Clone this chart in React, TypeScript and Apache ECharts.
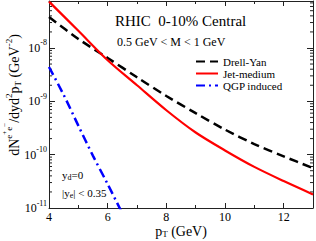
import React, { useEffect, useRef } from "react";
import * as echarts from "echarts";

const ptGrid = [4, 5, 6, 7, 8, 9, 10, 11, 12, 13];
const drellYan = [3.8e-8, 1.48e-8, 6.5e-9, 2.82e-9, 1.26e-9, 6.0e-10, 2.95e-10, 1.58e-10, 9.3e-11, 5.6e-11];
const jetMedium = [7.4e-8, 2.1e-8, 5.9e-9, 2.0e-9, 6.8e-10, 2.6e-10, 1.2e-10, 5.9e-11, 3.2e-11, 1.8e-11];
const qgpPt = [4, 4.5, 5, 5.5, 6, 6.5];
const qgpInduced = [4.4e-9, 1.32e-9, 3.5e-10, 9.5e-11, 2.8e-11, 7.9e-12];

const seriesNames = ["Drell-Yan", "Jet-medium", "QGP induced"];
const xMin = 4;
const xMax = 13;
const yMin = 1e-11;
const yMax = 7.6e-8;

const FONT = "Liberation Serif";

function minorLogValues(): number[] {
  const out: number[] = [];
  for (let e = -11; e <= -8; e++) {
    for (let k = 2; k <= 9; k++) {
      const v = k * Math.pow(10, e);
      if (v > yMin && v < yMax) out.push(v);
    }
  }
  return out;
}

export default function App() {
  const ref = useRef<HTMLDivElement>(null);
  useEffect(() => {
    if (!ref.current) return;
    const chart = echarts.init(ref.current, undefined, { renderer: "svg" });
    const yLabelFormatter = (v: number) => {
      const l = Math.log10(v);
      const e = Math.round(l);
      if (Math.abs(l - e) > 1e-6) return "";
      return `{b|10}{s|${e}}`;
    };
    const axisLineStyle = { color: "#222", width: 1 };
    const commonX = {
      type: "value",
      min: xMin,
      max: xMax,
      interval: 2,
      axisLine: { show: true, lineStyle: axisLineStyle },
      axisTick: { show: true, inside: true, length: 5, lineStyle: { color: "#222" } },
      minorTick: { show: true, splitNumber: 2, length: 3, lineStyle: { color: "#222" } },
      splitLine: { show: false },
    };
    const commonY = {
      type: "log",
      logBase: 10,
      min: yMin,
      max: yMax,
      interval: 1,
      axisLine: { show: true, lineStyle: axisLineStyle },
      axisTick: { show: true, inside: true, length: 6, lineStyle: { color: "#222" } },
      splitLine: { show: false },
    };
    chart.setOption({
      animation: false,
      grid: { left: 49, right: 3, top: 1, bottom: 33, containLabel: false },
      xAxis: [
        {
          ...commonX,
          position: "bottom",
          axisLabel: {
            show: true,
            color: "#000",
            fontFamily: FONT,
            fontSize: 12,
            margin: 3,
            showMinLabel: true,
            showMaxLabel: false,
            formatter: (v: number) => (v % 2 === 0 && v <= 12 ? String(v) : ""),
          },
        },
        { ...commonX, position: "top", axisLabel: { show: false } },
      ],
      yAxis: [
        {
          ...commonY,
          position: "left",
          axisLabel: {
            show: true,
            color: "#000",
            margin: 2,
            formatter: yLabelFormatter,
            rich: {
              b: { fontFamily: FONT, fontSize: 12, color: "#000" },
              s: { fontFamily: FONT, fontSize: 8, color: "#000", padding: [0, 0, 10, 0] },
            },
          },
        },
        { ...commonY, position: "right", axisLabel: { show: false } },
      ],
      legend: {
        orient: "vertical",
        left: 195,
        top: 56,
        padding: 0,
        itemWidth: 22,
        itemHeight: 10,
        itemGap: 1,
        data: seriesNames,
        itemStyle: { opacity: 0 },
        textStyle: { fontFamily: FONT, fontSize: 11, color: "#000" },
      },
      series: [
        {
          name: seriesNames[0],
          type: "line",
          data: ptGrid.map((p, i) => [p, drellYan[i]]),
          smooth: 0.3,
          showSymbol: false,
          symbol: "none",
          lineStyle: { color: "#000", width: 2.5, type: [9, 5] },
          itemStyle: { color: "#000" },
          z: 3,
        },
        {
          name: seriesNames[1],
          type: "line",
          data: ptGrid.map((p, i) => [p, jetMedium[i]]),
          smooth: 0.3,
          showSymbol: false,
          symbol: "none",
          lineStyle: { color: "#ff0000", width: 2.2 },
          itemStyle: { color: "#ff0000" },
          z: 4,
        },
        {
          name: seriesNames[2],
          type: "line",
          data: qgpPt.map((p, i) => [p, qgpInduced[i]]),
          smooth: 0.3,
          showSymbol: false,
          symbol: "none",
          lineStyle: { color: "#0000ff", width: 2.5, type: [9, 4, 2, 4] },
          itemStyle: { color: "#0000ff" },
          z: 3,
        },
        {
          name: "minorTicks",
          type: "custom",
          silent: true,
          data: minorLogValues().map((v) => [xMin, v]),
          encode: { x: 0, y: 1 },
          renderItem: (params: any, api: any) => {
            const y = api.coord([xMin, api.value(1)])[1];
            const cs = params.coordSys;
            return {
              type: "group",
              children: [
                { type: "line", shape: { x1: cs.x, y1: y, x2: cs.x + 3, y2: y }, style: { stroke: "#222", lineWidth: 1 } },
                { type: "line", shape: { x1: cs.x + cs.width, y1: y, x2: cs.x + cs.width - 3, y2: y }, style: { stroke: "#222", lineWidth: 1 } },
              ],
            };
          },
          z: 1,
        },
      ],
      graphic: [
        {
          type: "text",
          left: 115,
          top: 13,
          style: { text: "RHIC  0-10% Central", fontFamily: FONT, fontSize: 15, fill: "#000" },
        },
        {
          type: "text",
          left: 117,
          top: 36,
          style: { text: "0.5 GeV < M < 1 GeV", fontFamily: FONT, fontSize: 12, fill: "#000" },
        },
        {
          type: "text",
          x: 62,
          y: 175,
          style: {
            text: "{m|y}{b|d}{m|=0}",
            verticalAlign: "middle",
            rich: {
              m: { fontFamily: FONT, fontSize: 11, fill: "#000" },
              b: { fontFamily: FONT, fontSize: 8, fill: "#000", padding: [5, 0, 0, 0] },
            },
          },
        },
        {
          type: "text",
          x: 62,
          y: 193,
          style: {
            text: "{m||y}{b|e}{m|| < 0.35}",
            verticalAlign: "middle",
            rich: {
              m: { fontFamily: FONT, fontSize: 11, fill: "#000" },
              b: { fontFamily: FONT, fontSize: 8, fill: "#000", padding: [5, 0, 0, 0] },
            },
          },
        },
        {
          type: "text",
          x: 181,
          y: 231,
          style: {
            text: "{m|p}{b|T}{m| (GeV)}",
            align: "center",
            verticalAlign: "middle",
            rich: {
              m: { fontFamily: FONT, fontSize: 14, fill: "#000" },
              b: { fontFamily: FONT, fontSize: 9, fill: "#000", padding: [6, 0, 0, 0] },
            },
          },
        },
        {
          type: "text",
          x: 14,
          y: 95,
          rotation: Math.PI / 2,
          style: {
            text: "{m|dN}{s|e}{ss|+}{s|e}{ss|−}{m|/dyd}{s|2}{m|p}{b|T}{m| (GeV}{s|-2}{m|)}",
            align: "center",
            verticalAlign: "middle",
            rich: {
              m: { fontFamily: FONT, fontSize: 14, fill: "#000" },
              s: { fontFamily: FONT, fontSize: 9, fill: "#000", padding: [0, 0, 10, 0] },
              ss: { fontFamily: FONT, fontSize: 7, fill: "#000", padding: [0, 0, 18, 0] },
              b: { fontFamily: FONT, fontSize: 9, fill: "#000", padding: [7, 0, 0, 0] },
            },
          },
        },
      ],
    });
    return () => chart.dispose();
  }, []);
  return <div ref={ref} style={{ width: 316, height: 241, position: "absolute", left: 0, top: 0 }} />;
}
